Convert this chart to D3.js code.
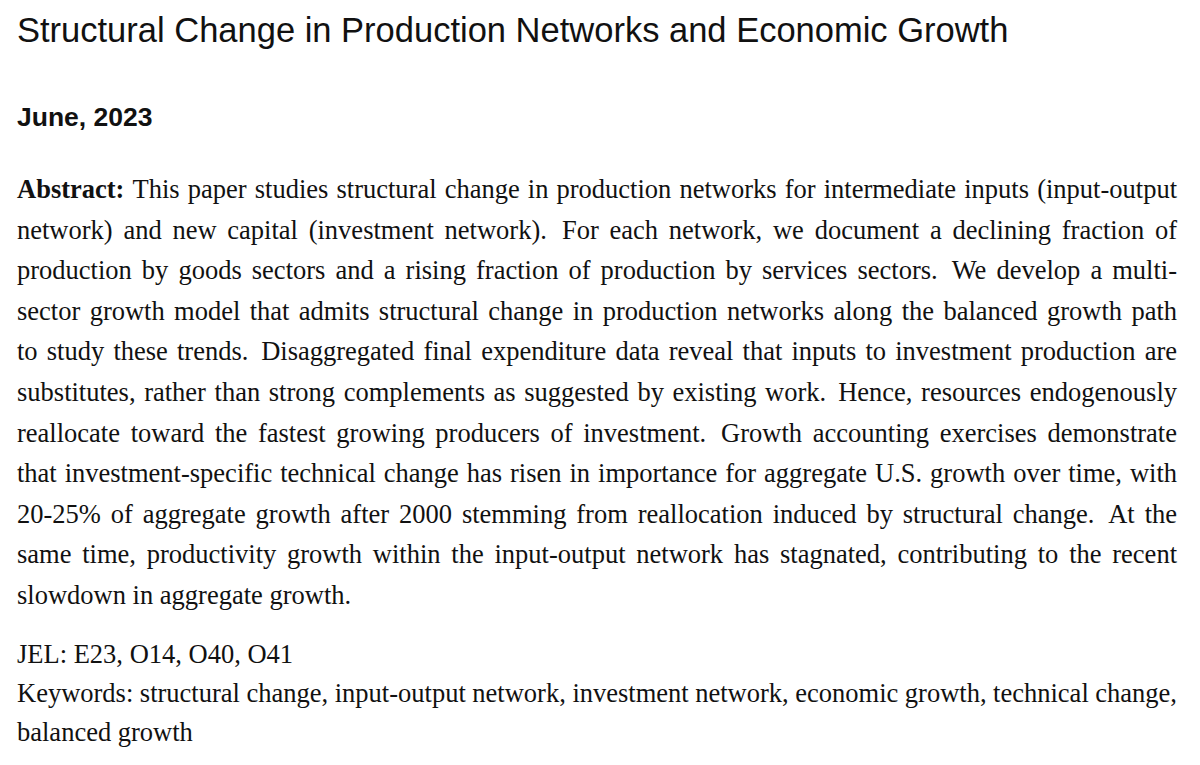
<!DOCTYPE html>
<html lang="en">
<head>
    <meta charset="UTF-8">
    <title>Structural Change in Production Networks and Economic Growth</title>
    <script src="https://cdn.jsdelivr.net/npm/d3@7"></script>
    <style>
        body { margin: 0; background: #fff; }
        svg { display: block; }
    </style>
</head>
<body>
<svg width="1200" height="765"></svg>
<script>
    // page text, one entry per printed line
    var titleText = "Structural Change in Production Networks and Economic Growth";
    var dateText = "June, 2023";
    var abstractLines = [
        "Abstract: This paper studies structural change in production networks for intermediate inputs (input-output",
        "network) and new capital (investment network).  For each network, we document a declining fraction of",
        "production by goods sectors and a rising fraction of production by services sectors.  We develop a multi-",
        "sector growth model that admits structural change in production networks along the balanced growth path",
        "to study these trends.  Disaggregated final expenditure data reveal that inputs to investment production are",
        "substitutes, rather than strong complements as suggested by existing work. Hence, resources endogenously",
        "reallocate toward the fastest growing producers of investment.  Growth accounting exercises demonstrate",
        "that investment-specific technical change has risen in importance for aggregate U.S. growth over time, with",
        "20-25% of aggregate growth after 2000 stemming from reallocation induced by structural change.  At the",
        "same time, productivity growth within the input-output network has stagnated, contributing to the recent",
        "slowdown in aggregate growth."
    ];
    var jelLines = ["JEL: E23, O14, O40, O41"];
    var keywordLines = [
        "Keywords: structural change, input-output network, investment network, economic growth, technical change,",
        "balanced growth"
    ];

    var svg = d3.select("svg");
    var left = 17, right = 1177;
    var serif = "'Liberation Serif', 'Times New Roman', serif";
    var sans = "'Liberation Sans', Arial, Helvetica, sans-serif";
    var bodySize = 26.5;
    var lineStep = 40.6;

    svg.append("rect").attr("width", 1200).attr("height", 765).attr("fill", "#fff");

    svg.append("text")
        .attr("x", left).attr("y", 42)
        .attr("font-family", sans).attr("font-size", 34.5)
        .attr("fill", "#111")
        .text(titleText);

    svg.append("text")
        .attr("x", left).attr("y", 126)
        .attr("font-family", sans).attr("font-size", 26.5).attr("font-weight", "bold")
        .attr("fill", "#111")
        .text(dateText);

    // draw one line; justified lines get each word placed separately
    function drawLine(str, y, justify, boldFirst) {
        var g = svg.append("g").attr("transform", "translate(0," + y + ")");
        var words = str.split(/\s+/);
        if (!justify) {
            var t = g.append("text").attr("x", left).attr("y", 0)
                .attr("font-family", serif).attr("font-size", bodySize).attr("fill", "#111");
            words.forEach(function (w, j) {
                t.append("tspan")
                    .attr("font-weight", boldFirst && j === 0 ? "bold" : null)
                    .text((j > 0 ? " " : "") + w);
            });
            return;
        }
        var nodes = g.selectAll("text")
            .data(words)
            .enter()
            .append("text")
            .attr("y", 0)
            .attr("font-family", serif)
            .attr("font-size", bodySize)
            .attr("font-weight", function (d, j) { return boldFirst && j === 0 ? "bold" : null; })
            .attr("fill", "#111")
            .text(function (d) { return d; });
        var widths = [];
        nodes.each(function () { widths.push(this.getComputedTextLength()); });
        // a bit more room after a sentence end, like TeX does
        var weights = words.slice(0, -1).map(function (w) {
            return /[a-z\)]\.$/.test(w) ? 1.4 : 1;
        });
        var free = (right - left) - d3.sum(widths);
        var unit = free / d3.sum(weights);
        var xs = [left];
        for (var k = 1; k < words.length; k++) {
            xs.push(xs[k - 1] + widths[k - 1] + unit * weights[k - 1]);
        }
        nodes.attr("x", function (d, j) { return xs[j]; });
    }

    abstractLines.forEach(function (line, i) {
        drawLine(line, 198 + i * lineStep, i < abstractLines.length - 1, i === 0);
    });

    drawLine(jelLines[0], 663, false, false);

    keywordLines.forEach(function (line, i) {
        drawLine(line, 702 + i * 39, i < keywordLines.length - 1, false);
    });
</script>
</body>
</html>
